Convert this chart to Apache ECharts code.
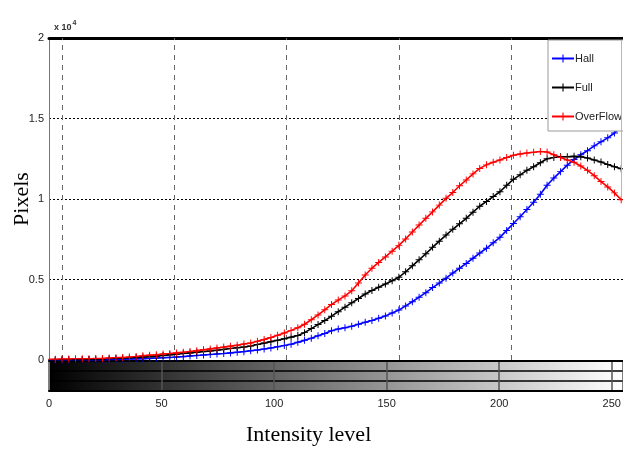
<!DOCTYPE html>
<html>
<head>
<meta charset="utf-8">
<script src="https://cdn.jsdelivr.net/npm/echarts@6/dist/echarts.min.js"></script>
<style>
html, body { margin: 0; padding: 0; background: #fff; }
#chart { width: 623px; height: 454px; }
</style>
</head>
<body>
<div id="chart"></div>
<script>
// intensity bins, every 3 levels (upper plot coordinates)
let bins = [];
for (let b = -6; b <= 249; b += 3) bins.push(b);

// pixel counts, in units of 10^4
const hall = [0, 0, 0, 0, 0.001, 0.001, 0.001, 0.002, 0.002, 0.003, 0.004, 0.005, 0.006, 0.007, 0.008, 0.010,
	0.012, 0.014, 0.016, 0.019, 0.021, 0.025, 0.028, 0.031, 0.034, 0.037, 0.040, 0.044, 0.048, 0.052, 0.057, 0.062,
	0.068, 0.075, 0.082, 0.090, 0.098, 0.110, 0.122, 0.135, 0.150, 0.165, 0.182, 0.192, 0.200, 0.210, 0.222, 0.234,
	0.246, 0.260, 0.274, 0.292, 0.310, 0.336, 0.362, 0.390, 0.418, 0.450, 0.478, 0.508, 0.540, 0.570, 0.600, 0.632,
	0.664, 0.694, 0.728, 0.762, 0.805, 0.848, 0.890, 0.935, 0.980, 1.030, 1.085, 1.130, 1.170, 1.210, 1.245, 1.275,
	1.300, 1.330, 1.355, 1.380, 1.410, 1.450];
const full = [0, 0, 0.001, 0.001, 0.002, 0.002, 0.003, 0.004, 0.005, 0.007, 0.009, 0.011, 0.013, 0.015, 0.018, 0.020,
	0.024, 0.028, 0.032, 0.036, 0.040, 0.044, 0.048, 0.052, 0.056, 0.061, 0.066, 0.071, 0.076, 0.081, 0.087, 0.096,
	0.105, 0.114, 0.123, 0.132, 0.142, 0.152, 0.170, 0.195, 0.220, 0.245, 0.272, 0.300, 0.328, 0.355, 0.382, 0.410,
	0.432, 0.452, 0.472, 0.492, 0.514, 0.548, 0.585, 0.622, 0.660, 0.700, 0.738, 0.776, 0.812, 0.846, 0.880, 0.918,
	0.955, 0.985, 1.015, 1.045, 1.085, 1.122, 1.150, 1.178, 1.200, 1.225, 1.250, 1.258, 1.262, 1.262, 1.265, 1.262,
	1.255, 1.242, 1.230, 1.215, 1.200, 1.188];
const overflow = [0.005, 0.005, 0.006, 0.006, 0.007, 0.008, 0.008, 0.009, 0.010, 0.012, 0.014, 0.016, 0.019, 0.022, 0.026, 0.030,
	0.033, 0.037, 0.040, 0.044, 0.048, 0.053, 0.058, 0.063, 0.069, 0.075, 0.080, 0.086, 0.092, 0.099, 0.106, 0.116,
	0.128, 0.140, 0.154, 0.168, 0.184, 0.200, 0.222, 0.250, 0.280, 0.312, 0.345, 0.372, 0.398, 0.430, 0.478, 0.528,
	0.570, 0.606, 0.640, 0.676, 0.712, 0.752, 0.795, 0.838, 0.880, 0.920, 0.962, 1.004, 1.040, 1.082, 1.118, 1.156,
	1.190, 1.212, 1.228, 1.242, 1.258, 1.272, 1.280, 1.286, 1.290, 1.295, 1.292, 1.275, 1.258, 1.242, 1.228, 1.205,
	1.178, 1.145, 1.108, 1.075, 1.038, 0.995];

const gridX = [0, 50, 100, 150, 200];
const yTicks = [0, 0.5, 1, 1.5, 2];

const narrow = '"Liberation Sans Narrow", "Liberation Sans", sans-serif';
const plus = 'path://M4.3,0H5.7V4.3H10V5.7H5.7V10H4.3V5.7H0V4.3H4.3Z';

function pairs(vals) {
	return vals.map((v, k) => [bins[k], v]);
}

function lineSeries(name, color, vals) {
	return {
		name: name,
		type: 'line',
		xAxisIndex: 0,
		yAxisIndex: 0,
		data: pairs(vals),
		symbol: plus,
		symbolSize: 7,
		showSymbol: true,
		showAllSymbol: true,
		itemStyle: { color: color },
		lineStyle: { color: color, width: 1.6 },
		emphasis: { disabled: true },
		z: 3
	};
}

let series = [
	lineSeries('Hall', '#0000ff', hall),
	lineSeries('Full', '#000000', full),
	lineSeries('OverFlow', '#ff0000', overflow)
];

// vertical dashed grid of the upper plot
series[0].markLine = {
	silent: true,
	symbol: 'none',
	label: { show: false },
	lineStyle: { color: '#666', type: [5, 5], width: 1 },
	data: gridX.map(v => ({ xAxis: v })),
	z: 1
};

let chart = echarts.init(document.getElementById('chart'));
chart.setOption({
	animation: false,
	backgroundColor: '#fff',
	title: {
		text: '{a|x 10}{b|4}',
		left: 49,
		top: 15,
		textStyle: {
			rich: {
				a: { fontFamily: narrow, fontSize: 9, color: '#333' },
				b: { fontFamily: narrow, fontSize: 7, color: '#333', verticalAlign: 'top', padding: [0, 0, 8, 1] }
			}
		}
	},
	legend: {
		orient: 'vertical',
		left: 548,
		top: 40,
		padding: [13, 4, 9, 3],
		itemWidth: 22,
		itemHeight: 10,
		itemGap: 18,
		backgroundColor: '#fff',
		borderColor: '#999',
		borderWidth: 1,
		borderRadius: 0,
		textStyle: { fontFamily: narrow, fontSize: 11, color: '#222', padding: [0, 0, 0, -4] },
		data: ['Hall', 'Full', 'OverFlow']
	},
	grid: [
		{ left: 49, top: 38, width: 574, height: 322, outerBoundsMode: 'none' },
		{
			left: 49, top: 361, width: 574, height: 30, show: true, borderWidth: 0, outerBoundsMode: 'none',
			backgroundColor: new echarts.graphic.LinearGradient(0, 0, 1, 0, [
				{ offset: 0, color: '#000' }, { offset: 1, color: '#fff' }
			])
		}
	],
	xAxis: [
		{
			gridIndex: 0, type: 'value', min: -5.8, max: 249.8,
			axisLine: { show: false }, axisTick: { show: false }, axisLabel: { show: false }, splitLine: { show: false }
		},
		{
			gridIndex: 0, type: 'value', position: 'top', min: -5.8, max: 249.8,
			axisLine: { show: true, onZero: false, lineStyle: { color: '#000', width: 3 } },
			axisTick: { show: false }, axisLabel: { show: false }, splitLine: { show: false }
		},
		{
			gridIndex: 1, type: 'value', min: 0, max: 255, interval: 50,
			axisLine: { show: true, onZero: false, lineStyle: { color: '#000', width: 2 } },
			axisTick: { show: false },
			axisLabel: { fontFamily: narrow, fontSize: 11, color: '#222', margin: 7, showMaxLabel: false },
			splitLine: { show: true, lineStyle: { color: '#555', width: 1.5 } }
		},
		{
			gridIndex: 1, type: 'value', position: 'top', min: 0, max: 255,
			axisLine: { show: true, onZero: false, lineStyle: { color: '#000', width: 2 } },
			axisTick: { show: false }, axisLabel: { show: false }, splitLine: { show: false }
		}
	],
	yAxis: [
		{
			gridIndex: 0, type: 'value', min: 0, max: 2, interval: 0.5,
			axisLine: { show: true, onZero: false, lineStyle: { color: '#777', width: 1 } },
			axisTick: { show: false },
			axisLabel: {
				fontFamily: narrow, fontSize: 11, color: '#222', margin: 5,
				formatter: v => yTicks.indexOf(v) >= 0 ? String(v) : ''
			},
			splitLine: { show: true, lineStyle: { color: '#000', type: [2, 2], width: 1 } }
		},
		{
			gridIndex: 1, type: 'value', min: 0, max: 3, interval: 1,
			axisLine: { show: true, onZero: false, lineStyle: { color: '#777', width: 1 } },
			axisTick: { show: false }, axisLabel: { show: false },
			splitLine: { show: true, lineStyle: { color: '#000', width: 1.5 } }
		}
	],
	graphic: [
		{
			type: 'text', x: 22, y: 199, rotation: Math.PI / 2, silent: true,
			style: {
				text: 'Pixels', font: '22px "Liberation Serif", serif', fill: '#000',
				align: 'center', verticalAlign: 'middle'
			}
		},
		{
			type: 'text', left: 246, top: 424, silent: true,
			style: { text: 'Intensity level', font: '22px "Liberation Serif", serif', fill: '#000' }
		},
		{
			type: 'line', silent: true, z: 10,
			shape: { x1: 621.5, y1: 40, x2: 621.5, y2: 198 },
			style: { stroke: '#ff9a9a', lineWidth: 1 }
		}
	],
	series: series
});
</script>
</body>
</html>
